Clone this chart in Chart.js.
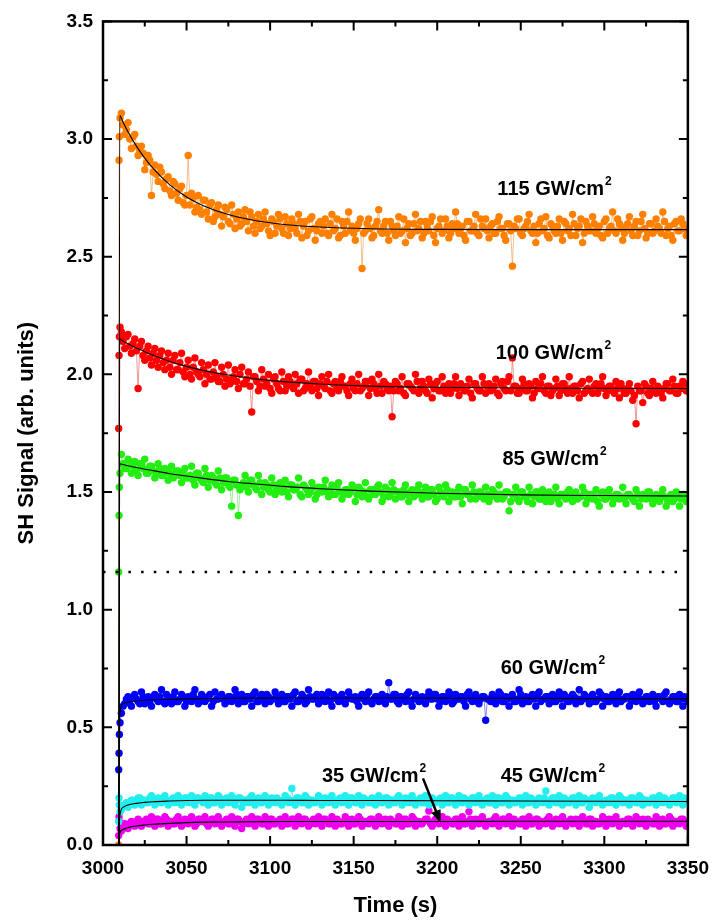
<!DOCTYPE html>
<html>
<head>
<meta charset="utf-8">
<script src="https://cdn.jsdelivr.net/npm/chart.js"></script>
<style>
  html, body { margin: 0; padding: 0; background: #fff; }
  #chart { display: block; }
</style>
</head>
<body>
<canvas id="chart" width="721" height="920"></canvas>
<script>
// --- data ---
// rising edge samples (shared by all series), then samples every second:
// "odd" arrays hold t = 3011, 3013, ..., 3349 and "even" arrays t = 3012, 3014, ..., 3350
const riseTimes = [3009.4, 3009.6, 3009.8, 3010.2];
const oddStart = 3011;
const evenStart = 3012;
const sampleStep = 2;

const orangeRise = [0.00, 2.91, 3.01, 3.09];
const orangeOdd = [
  3.11, 3.02, 3.07, 2.96, 3.02, 2.93, 2.97, 2.87, 2.93, 2.76,
  2.89, 2.82, 2.86, 2.79, 2.84, 2.76, 2.81, 2.74, 2.80, 2.72,
  2.93, 2.77, 2.69, 2.76, 2.68, 2.74, 2.66, 2.73, 2.67, 2.72,
  2.63, 2.71, 2.65, 2.72, 2.62, 2.69, 2.64, 2.70, 2.61, 2.67,
  2.60, 2.68, 2.63, 2.69, 2.61, 2.66, 2.60, 2.68, 2.62, 2.67,
  2.59, 2.66, 2.62, 2.68, 2.58, 2.65, 2.61, 2.67, 2.57, 2.64,
  2.60, 2.66, 2.59, 2.68, 2.62, 2.58, 2.65, 2.60, 2.69, 2.63,
  2.57, 2.64, 2.45, 2.61, 2.66, 2.58, 2.63, 2.70, 2.60, 2.65,
  2.57, 2.63, 2.59, 2.67, 2.61, 2.56, 2.64, 2.60, 2.68, 2.62,
  2.58, 2.65, 2.61, 2.67, 2.56, 2.63, 2.60, 2.66, 2.58, 2.64,
  2.69, 2.60, 2.63, 2.57, 2.65, 2.61, 2.68, 2.59, 2.63, 2.66,
  2.58, 2.64, 2.60, 2.67, 2.62, 2.57, 2.64, 2.46, 2.62, 2.66,
  2.59, 2.63, 2.68, 2.60, 2.56, 2.64, 2.61, 2.67, 2.58, 2.63,
  2.60, 2.66, 2.57, 2.64, 2.62, 2.68, 2.59, 2.63, 2.56, 2.65,
  2.61, 2.67, 2.60, 2.63, 2.58, 2.66, 2.62, 2.69, 2.60, 2.64,
  2.57, 2.63, 2.67, 2.59, 2.65, 2.61, 2.68, 2.58, 2.64, 2.60,
  2.66, 2.62, 2.69, 2.59, 2.63, 2.57, 2.65, 2.61, 2.64, 2.59
];
const orangeEven = [
  3.06, 3.04, 3.00, 3.01, 2.97, 2.95, 2.94, 2.90, 2.91, 2.86,
  2.85, 2.88, 2.81, 2.83, 2.78, 2.82, 2.77, 2.79, 2.73, 2.76,
  2.72, 2.75, 2.71, 2.70, 2.74, 2.69, 2.72, 2.65, 2.70, 2.68,
  2.67, 2.70, 2.64, 2.68, 2.66, 2.63, 2.67, 2.65, 2.69, 2.63,
  2.65, 2.62, 2.66, 2.64, 2.59, 2.65, 2.63, 2.66, 2.60, 2.64,
  2.62, 2.64, 2.60, 2.65, 2.63, 2.59, 2.66, 2.62, 2.61, 2.65,
  2.63, 2.60, 2.64, 2.61, 2.66, 2.59, 2.63, 2.65, 2.61, 2.60,
  2.62, 2.66, 2.60, 2.64, 2.62, 2.59, 2.65, 2.61, 2.63, 2.60,
  2.65, 2.61, 2.63, 2.60, 2.66, 2.62, 2.59, 2.64, 2.61, 2.65,
  2.60, 2.63, 2.65, 2.59, 2.62, 2.66, 2.61, 2.63, 2.60, 2.62,
  2.64, 2.62, 2.59, 2.65, 2.61, 2.63, 2.60, 2.66, 2.62, 2.61,
  2.63, 2.60, 2.65, 2.62, 2.59, 2.64, 2.61, 2.63, 2.66, 2.60,
  2.62, 2.65, 2.61, 2.63, 2.60, 2.66, 2.62, 2.59, 2.64, 2.61,
  2.63, 2.60, 2.65, 2.61, 2.59, 2.64, 2.62, 2.66, 2.60, 2.63,
  2.61, 2.64, 2.62, 2.59, 2.65, 2.60, 2.63, 2.61, 2.66, 2.62,
  2.60, 2.64, 2.61, 2.63, 2.59, 2.65, 2.62, 2.60, 2.64, 2.61,
  2.63, 2.60, 2.65, 2.62, 2.59, 2.64, 2.61, 2.66, 2.62, 2.60
];

const redRise = [1.77, 2.08, 2.16, 2.20];
const redOdd = [
  2.18, 2.11, 2.17, 2.09, 2.15, 1.94, 2.14, 2.06, 2.12, 2.04,
  2.11, 2.03, 2.10, 2.02, 2.09, 2.00, 2.08, 2.02, 2.09, 1.99,
  2.06, 1.98, 2.07, 2.00, 2.05, 1.96, 2.04, 1.98, 2.05, 1.97,
  2.03, 1.95, 2.04, 1.97, 2.02, 1.94, 2.03, 1.96, 2.01, 1.84,
  1.99, 1.93, 2.02, 1.95, 2.00, 1.92, 1.99, 1.94, 2.01, 1.93,
  1.99, 1.95, 2.00, 1.92, 1.98, 1.94, 2.01, 1.93, 1.97, 1.91,
  1.99, 1.94, 2.00, 1.92, 1.97, 1.93, 1.99, 1.95, 1.91, 1.98,
  1.93, 2.00, 1.94, 1.97, 1.91, 1.98, 1.94, 2.00, 1.92, 1.96,
  1.93, 1.82, 1.97, 1.93, 1.99, 1.91, 1.96, 1.94, 2.00, 1.92,
  1.97, 1.93, 1.98, 1.90, 1.96, 1.93, 1.99, 1.92, 1.96, 1.94,
  1.99, 1.91, 1.95, 1.93, 1.98, 1.90, 1.96, 1.93, 1.99, 1.92,
  1.96, 1.94, 1.98, 1.91, 1.97, 1.93, 1.99, 2.07, 1.95, 1.92,
  1.98, 1.93, 1.96, 1.90, 1.97, 1.94, 1.99, 1.92, 1.95, 1.93,
  1.98, 1.91, 1.96, 1.94, 1.99, 1.92, 1.95, 1.90, 1.97, 1.93,
  1.98, 1.92, 1.96, 1.94, 1.99, 1.91, 1.95, 1.93, 1.97, 1.90,
  1.94, 1.92, 1.96, 1.89, 1.79, 1.93, 1.88, 1.95, 1.91, 1.97,
  1.92, 1.94, 1.90, 1.96, 1.93, 1.98, 1.92, 1.95, 1.97, 1.93
];
const redEven = [
  2.14, 2.16, 2.12, 2.13, 2.10, 2.12, 2.08, 2.10, 2.07, 2.09,
  2.06, 2.08, 2.05, 2.06, 2.03, 2.06, 2.02, 2.05, 2.01, 2.03,
  2.00, 2.03, 2.01, 1.99, 2.02, 2.00, 1.98, 2.01, 1.99, 1.97,
  2.00, 1.98, 1.96, 1.99, 1.97, 2.00, 1.96, 1.98, 1.95, 1.99,
  1.97, 1.95, 1.98, 1.96, 1.94, 1.98, 1.96, 1.93, 1.97, 1.95,
  1.97, 1.94, 1.96, 1.98, 1.93, 1.96, 1.95, 1.97, 1.94, 1.96,
  1.95, 1.97, 1.93, 1.96, 1.94, 1.97, 1.95, 1.93, 1.96, 1.94,
  1.96, 1.93, 1.95, 1.97, 1.94, 1.96, 1.92, 1.95, 1.97, 1.94,
  1.95, 1.93, 1.96, 1.94, 1.92, 1.96, 1.95, 1.93, 1.97, 1.94,
  1.95, 1.92, 1.96, 1.94, 1.97, 1.93, 1.95, 1.94, 1.92, 1.96,
  1.94, 1.96, 1.93, 1.95, 1.92, 1.96, 1.94, 1.93, 1.96, 1.95,
  1.93, 1.95, 1.92, 1.96, 1.94, 1.97, 1.93, 1.95, 1.92, 1.94,
  1.96, 1.93, 1.95, 1.92, 1.94, 1.96, 1.93, 1.95, 1.91, 1.94,
  1.95, 1.93, 1.96, 1.92, 1.94, 1.95, 1.93, 1.96, 1.92, 1.94,
  1.93, 1.95, 1.92, 1.96, 1.94, 1.93, 1.95, 1.92, 1.94, 1.96,
  1.92, 1.94, 1.93, 1.91, 1.95, 1.93, 1.96, 1.92, 1.94, 1.93,
  1.95, 1.92, 1.94, 1.96, 1.93, 1.95, 1.92, 1.94, 1.96, 1.93
];

const greenRise = [1.16, 1.40, 1.52, 1.58];
const greenOdd = [
  1.66, 1.60, 1.64, 1.58, 1.63, 1.57, 1.62, 1.64, 1.58, 1.61,
  1.56, 1.62, 1.57, 1.60, 1.55, 1.61, 1.57, 1.59, 1.54, 1.60,
  1.56, 1.61, 1.53, 1.58, 1.55, 1.60, 1.52, 1.57, 1.54, 1.59,
  1.51, 1.56, 1.53, 1.44, 1.55, 1.40, 1.52, 1.57, 1.50, 1.55,
  1.52, 1.57, 1.49, 1.54, 1.51, 1.56, 1.49, 1.53, 1.50, 1.55,
  1.48, 1.53, 1.51, 1.56, 1.48, 1.52, 1.49, 1.54, 1.47, 1.52,
  1.50, 1.55, 1.48, 1.53, 1.49, 1.54, 1.47, 1.51, 1.49, 1.53,
  1.46, 1.52, 1.48, 1.54, 1.47, 1.51, 1.49, 1.53, 1.46, 1.52,
  1.48, 1.54, 1.47, 1.50, 1.48, 1.53, 1.46, 1.51, 1.49, 1.53,
  1.47, 1.52, 1.48, 1.51, 1.46, 1.52, 1.49, 1.53, 1.46, 1.50,
  1.48, 1.52, 1.45, 1.51, 1.49, 1.53, 1.47, 1.50, 1.48, 1.52,
  1.46, 1.51, 1.49, 1.53, 1.47, 1.50, 1.42, 1.49, 1.52, 1.46,
  1.50, 1.48, 1.52, 1.45, 1.50, 1.47, 1.51, 1.46, 1.50, 1.48,
  1.52, 1.45, 1.49, 1.47, 1.51, 1.46, 1.50, 1.48, 1.52, 1.45,
  1.49, 1.47, 1.51, 1.44, 1.50, 1.47, 1.51, 1.45, 1.49, 1.47,
  1.52, 1.45, 1.49, 1.47, 1.51, 1.44, 1.49, 1.47, 1.50, 1.45,
  1.49, 1.46, 1.51, 1.44, 1.48, 1.46, 1.50, 1.44, 1.49, 1.46
];
const greenEven = [
  1.62, 1.60, 1.63, 1.61, 1.59, 1.62, 1.60, 1.58, 1.61, 1.59,
  1.58, 1.60, 1.57, 1.59, 1.58, 1.56, 1.59, 1.57, 1.58, 1.56,
  1.57, 1.55, 1.58, 1.56, 1.54, 1.57, 1.55, 1.56, 1.53, 1.56,
  1.54, 1.56, 1.52, 1.55, 1.53, 1.51, 1.54, 1.52, 1.55, 1.53,
  1.51, 1.54, 1.52, 1.53, 1.50, 1.53, 1.51, 1.54, 1.52, 1.50,
  1.53, 1.51, 1.52, 1.49, 1.53, 1.51, 1.50, 1.52, 1.49, 1.51,
  1.52, 1.50, 1.51, 1.49, 1.52, 1.50, 1.49, 1.51, 1.50, 1.52,
  1.49, 1.51, 1.50, 1.48, 1.51, 1.49, 1.52, 1.50, 1.48, 1.51,
  1.49, 1.51, 1.50, 1.48, 1.51, 1.49, 1.50, 1.48, 1.51, 1.49,
  1.50, 1.48, 1.51, 1.49, 1.47, 1.50, 1.48, 1.51, 1.49, 1.48,
  1.50, 1.48, 1.51, 1.49, 1.47, 1.50, 1.48, 1.50, 1.47, 1.49,
  1.48, 1.50, 1.47, 1.49, 1.48, 1.50, 1.46, 1.49, 1.47, 1.50,
  1.48, 1.46, 1.49, 1.48, 1.50, 1.47, 1.49, 1.48, 1.46, 1.49,
  1.47, 1.49, 1.48, 1.50, 1.47, 1.49, 1.47, 1.48, 1.50, 1.47,
  1.49, 1.48, 1.46, 1.49, 1.47, 1.50, 1.48, 1.47, 1.49, 1.48,
  1.47, 1.49, 1.48, 1.46, 1.49, 1.47, 1.48, 1.50, 1.47, 1.48,
  1.47, 1.49, 1.48, 1.46, 1.49, 1.47, 1.48, 1.47, 1.49, 1.47
];

const blueRise = [0.32, 0.39, 0.47, 0.52];
const blueOdd = [
  0.56, 0.60, 0.63, 0.59, 0.64, 0.61, 0.65, 0.60, 0.63, 0.59,
  0.64, 0.61, 0.66, 0.60, 0.63, 0.60, 0.65, 0.61, 0.64, 0.59,
  0.63, 0.61, 0.66, 0.60, 0.64, 0.61, 0.63, 0.59, 0.65, 0.62,
  0.64, 0.60, 0.63, 0.61, 0.66, 0.60, 0.64, 0.61, 0.63, 0.59,
  0.65, 0.61, 0.64, 0.60, 0.63, 0.62, 0.65, 0.60, 0.64, 0.61,
  0.63, 0.59, 0.65, 0.61, 0.64, 0.60, 0.66, 0.62, 0.63, 0.60,
  0.64, 0.61, 0.65, 0.59, 0.63, 0.61, 0.64, 0.60, 0.65, 0.62,
  0.63, 0.59, 0.64, 0.61, 0.65, 0.60, 0.63, 0.61, 0.64, 0.60,
  0.69, 0.62, 0.64, 0.60, 0.63, 0.61, 0.65, 0.59, 0.64, 0.61,
  0.63, 0.60, 0.65, 0.62, 0.64, 0.59, 0.63, 0.61, 0.65, 0.60,
  0.64, 0.62, 0.63, 0.59, 0.65, 0.61, 0.64, 0.60, 0.63, 0.53,
  0.62, 0.64, 0.60, 0.65, 0.61, 0.63, 0.59, 0.64, 0.61, 0.66,
  0.60, 0.63, 0.61, 0.64, 0.59, 0.65, 0.62, 0.63, 0.60, 0.64,
  0.61, 0.65, 0.59, 0.63, 0.61, 0.64, 0.60, 0.66, 0.62, 0.63,
  0.60, 0.64, 0.61, 0.65, 0.59, 0.63, 0.61, 0.64, 0.60, 0.65,
  0.62, 0.63, 0.59, 0.64, 0.61, 0.65, 0.60, 0.63, 0.61, 0.64,
  0.59, 0.63, 0.61, 0.65, 0.60, 0.63, 0.61, 0.64, 0.59, 0.62
];
const blueEven = [
  0.59, 0.62, 0.61, 0.63, 0.62, 0.60, 0.63, 0.62, 0.61, 0.63,
  0.62, 0.63, 0.61, 0.64, 0.62, 0.63, 0.61, 0.62, 0.63, 0.61,
  0.62, 0.64, 0.62, 0.61, 0.63, 0.62, 0.64, 0.61, 0.62, 0.63,
  0.62, 0.61, 0.63, 0.62, 0.64, 0.62, 0.61, 0.63, 0.62, 0.64,
  0.61, 0.63, 0.62, 0.64, 0.61, 0.62, 0.63, 0.62, 0.61, 0.63,
  0.62, 0.64, 0.61, 0.62, 0.63, 0.61, 0.63, 0.62, 0.64, 0.61,
  0.62, 0.63, 0.61, 0.64, 0.62, 0.63, 0.61, 0.62, 0.63, 0.62,
  0.61, 0.63, 0.62, 0.64, 0.61, 0.62, 0.63, 0.62, 0.61, 0.63,
  0.62, 0.64, 0.61, 0.63, 0.62, 0.64, 0.61, 0.62, 0.63, 0.62,
  0.61, 0.63, 0.62, 0.64, 0.62, 0.61, 0.63, 0.62, 0.64, 0.61,
  0.62, 0.63, 0.61, 0.64, 0.62, 0.63, 0.61, 0.62, 0.63, 0.62,
  0.61, 0.63, 0.62, 0.64, 0.61, 0.62, 0.63, 0.61, 0.62, 0.64,
  0.62, 0.61, 0.63, 0.62, 0.64, 0.61, 0.62, 0.63, 0.62, 0.61,
  0.63, 0.62, 0.64, 0.61, 0.62, 0.63, 0.62, 0.61, 0.64, 0.62,
  0.63, 0.61, 0.62, 0.64, 0.62, 0.61, 0.63, 0.62, 0.64, 0.61,
  0.62, 0.63, 0.61, 0.62, 0.64, 0.62, 0.61, 0.63, 0.62, 0.61,
  0.63, 0.62, 0.64, 0.61, 0.62, 0.63, 0.61, 0.62, 0.63, 0.61
];

const cyanRise = [0.10, 0.20, 0.17, 0.14];
const cyanOdd = [
  0.15, 0.17, 0.16, 0.19, 0.17, 0.20, 0.17, 0.19, 0.18, 0.21,
  0.17, 0.20, 0.18, 0.21, 0.17, 0.19, 0.18, 0.21, 0.17, 0.20,
  0.18, 0.21, 0.17, 0.20, 0.19, 0.21, 0.17, 0.20, 0.18, 0.21,
  0.17, 0.19, 0.18, 0.21, 0.17, 0.20, 0.16, 0.19, 0.18, 0.21,
  0.17, 0.20, 0.18, 0.21, 0.17, 0.20, 0.18, 0.19, 0.17, 0.21,
  0.18, 0.24, 0.17, 0.20, 0.18, 0.21, 0.17, 0.19, 0.18, 0.21,
  0.17, 0.20, 0.18, 0.21, 0.17, 0.19, 0.18, 0.21, 0.17, 0.20,
  0.18, 0.21, 0.17, 0.19, 0.18, 0.20, 0.17, 0.21, 0.18, 0.20,
  0.17, 0.19, 0.18, 0.21, 0.17, 0.20, 0.18, 0.21, 0.17, 0.19,
  0.18, 0.21, 0.17, 0.20, 0.18, 0.19, 0.17, 0.21, 0.18, 0.20,
  0.17, 0.21, 0.18, 0.19, 0.17, 0.20, 0.18, 0.21, 0.17, 0.19,
  0.18, 0.21, 0.17, 0.20, 0.18, 0.21, 0.17, 0.19, 0.18, 0.20,
  0.17, 0.21, 0.18, 0.19, 0.17, 0.20, 0.18, 0.23, 0.17, 0.20,
  0.18, 0.21, 0.17, 0.19, 0.18, 0.20, 0.17, 0.21, 0.18, 0.19,
  0.16, 0.20, 0.18, 0.21, 0.17, 0.19, 0.18, 0.20, 0.17, 0.21,
  0.18, 0.19, 0.17, 0.20, 0.18, 0.21, 0.17, 0.19, 0.18, 0.20,
  0.17, 0.21, 0.18, 0.19, 0.17, 0.20, 0.18, 0.21, 0.17, 0.19
];
const cyanEven = [
  0.16, 0.18, 0.18, 0.19, 0.18, 0.20, 0.19, 0.18, 0.20, 0.19,
  0.18, 0.19, 0.20, 0.19, 0.18, 0.20, 0.19, 0.18, 0.19, 0.20,
  0.19, 0.18, 0.20, 0.19, 0.18, 0.19, 0.20, 0.18, 0.19, 0.20,
  0.18, 0.20, 0.19, 0.18, 0.19, 0.20, 0.18, 0.19, 0.20, 0.18,
  0.19, 0.18, 0.20, 0.19, 0.18, 0.19, 0.20, 0.18, 0.19, 0.20,
  0.19, 0.18, 0.20, 0.19, 0.18, 0.20, 0.19, 0.18, 0.19, 0.20,
  0.18, 0.19, 0.20, 0.18, 0.19, 0.20, 0.19, 0.18, 0.20, 0.19,
  0.18, 0.19, 0.20, 0.19, 0.18, 0.19, 0.20, 0.18, 0.19, 0.20,
  0.19, 0.18, 0.20, 0.19, 0.18, 0.19, 0.20, 0.18, 0.19, 0.20,
  0.18, 0.19, 0.20, 0.18, 0.19, 0.20, 0.19, 0.18, 0.20, 0.19,
  0.18, 0.19, 0.20, 0.19, 0.18, 0.20, 0.19, 0.18, 0.19, 0.20,
  0.18, 0.19, 0.20, 0.18, 0.19, 0.20, 0.19, 0.18, 0.19, 0.20,
  0.19, 0.18, 0.20, 0.19, 0.18, 0.19, 0.20, 0.18, 0.19, 0.20,
  0.18, 0.19, 0.20, 0.18, 0.19, 0.20, 0.19, 0.18, 0.20, 0.19,
  0.18, 0.19, 0.20, 0.19, 0.18, 0.19, 0.20, 0.18, 0.19, 0.20,
  0.19, 0.18, 0.20, 0.19, 0.18, 0.20, 0.19, 0.18, 0.19, 0.20,
  0.18, 0.19, 0.20, 0.18, 0.19, 0.20, 0.19, 0.18, 0.20, 0.19
];

const magentaRise = [0.04, 0.12, 0.10, 0.07];
const magentaOdd = [
  0.06, 0.09, 0.07, 0.10, 0.08, 0.11, 0.08, 0.10, 0.09, 0.12,
  0.08, 0.11, 0.09, 0.12, 0.08, 0.10, 0.09, 0.12, 0.08, 0.11,
  0.09, 0.12, 0.08, 0.11, 0.10, 0.12, 0.08, 0.11, 0.09, 0.12,
  0.08, 0.10, 0.09, 0.12, 0.08, 0.11, 0.07, 0.10, 0.09, 0.12,
  0.08, 0.11, 0.09, 0.12, 0.08, 0.11, 0.09, 0.10, 0.08, 0.12,
  0.09, 0.11, 0.08, 0.12, 0.09, 0.11, 0.08, 0.10, 0.09, 0.12,
  0.08, 0.11, 0.09, 0.12, 0.08, 0.10, 0.09, 0.12, 0.08, 0.11,
  0.09, 0.12, 0.08, 0.10, 0.09, 0.11, 0.08, 0.12, 0.09, 0.11,
  0.08, 0.10, 0.09, 0.12, 0.08, 0.11, 0.09, 0.12, 0.08, 0.10,
  0.09, 0.11, 0.145, 0.08, 0.11, 0.09, 0.12, 0.08, 0.10, 0.09,
  0.11, 0.08, 0.12, 0.09, 0.142, 0.08, 0.11, 0.09, 0.12, 0.08,
  0.10, 0.09, 0.12, 0.08, 0.11, 0.09, 0.12, 0.08, 0.10, 0.09,
  0.11, 0.08, 0.12, 0.09, 0.11, 0.08, 0.10, 0.09, 0.12, 0.08,
  0.11, 0.09, 0.12, 0.08, 0.10, 0.09, 0.11, 0.08, 0.12, 0.09,
  0.11, 0.08, 0.10, 0.09, 0.12, 0.08, 0.11, 0.09, 0.12, 0.08,
  0.10, 0.09, 0.11, 0.08, 0.12, 0.09, 0.11, 0.08, 0.10, 0.09,
  0.12, 0.08, 0.11, 0.09, 0.12, 0.08, 0.10, 0.09, 0.11, 0.08
];
const magentaEven = [
  0.07, 0.08, 0.09, 0.09, 0.10, 0.09, 0.10, 0.11, 0.09, 0.10,
  0.11, 0.09, 0.10, 0.11, 0.10, 0.09, 0.11, 0.10, 0.09, 0.10,
  0.11, 0.10, 0.09, 0.11, 0.10, 0.09, 0.10, 0.11, 0.10, 0.09,
  0.10, 0.11, 0.09, 0.10, 0.11, 0.10, 0.09, 0.11, 0.10, 0.09,
  0.11, 0.10, 0.09, 0.10, 0.11, 0.09, 0.10, 0.11, 0.10, 0.09,
  0.10, 0.11, 0.09, 0.10, 0.11, 0.10, 0.09, 0.11, 0.10, 0.09,
  0.11, 0.10, 0.09, 0.10, 0.11, 0.09, 0.10, 0.11, 0.10, 0.09,
  0.10, 0.11, 0.09, 0.10, 0.11, 0.10, 0.09, 0.11, 0.10, 0.09,
  0.11, 0.10, 0.09, 0.10, 0.11, 0.09, 0.10, 0.11, 0.10, 0.09,
  0.10, 0.11, 0.09, 0.10, 0.11, 0.10, 0.09, 0.11, 0.10, 0.09,
  0.11, 0.10, 0.09, 0.10, 0.11, 0.09, 0.10, 0.11, 0.10, 0.09,
  0.10, 0.11, 0.09, 0.10, 0.11, 0.10, 0.09, 0.11, 0.10, 0.09,
  0.11, 0.10, 0.09, 0.10, 0.11, 0.09, 0.10, 0.11, 0.10, 0.09,
  0.10, 0.11, 0.09, 0.10, 0.11, 0.10, 0.09, 0.11, 0.10, 0.09,
  0.11, 0.10, 0.09, 0.10, 0.11, 0.09, 0.10, 0.11, 0.10, 0.09,
  0.10, 0.11, 0.09, 0.10, 0.11, 0.10, 0.09, 0.11, 0.10, 0.09,
  0.11, 0.10, 0.09, 0.10, 0.11, 0.09, 0.10, 0.11, 0.10, 0.09
];

// fitted curves (black)
const fitTimes = [3009.5, 3010, 3012, 3015, 3020, 3025, 3030, 3040, 3050, 3060,
                  3075, 3090, 3110, 3130, 3160, 3200, 3250, 3300, 3350];
const orangeFit  = [0, 3.100, 3.071, 3.030, 2.970, 2.919, 2.875, 2.805, 2.754, 2.717,
                    2.679, 2.655, 2.636, 2.626, 2.619, 2.616, 2.615, 2.615, 2.615];
const redFit     = [0, 2.150, 2.142, 2.130, 2.112, 2.096, 2.081, 2.055, 2.034, 2.017,
                    1.997, 1.982, 1.968, 1.959, 1.950, 1.945, 1.942, 1.941, 1.940];
const greenFit   = [0, 1.620, 1.617, 1.612, 1.604, 1.597, 1.591, 1.578, 1.568, 1.558,
                    1.545, 1.535, 1.523, 1.514, 1.504, 1.495, 1.488, 1.485, 1.483];
const blueFit    = [0, 0.550, 0.600, 0.607, 0.612, 0.615, 0.617, 0.619, 0.621, 0.622,
                    0.623, 0.624, 0.625, 0.625, 0.625, 0.624, 0.623, 0.622, 0.621];
const cyanFit    = [0, 0.120, 0.160, 0.170, 0.177, 0.181, 0.184, 0.187, 0.189, 0.190,
                    0.190, 0.190, 0.190, 0.189, 0.189, 0.188, 0.187, 0.186, 0.185];
const magentaFit = [0, 0.050, 0.066, 0.074, 0.081, 0.085, 0.088, 0.092, 0.095, 0.097,
                    0.098, 0.099, 0.100, 0.100, 0.100, 0.100, 0.101, 0.101, 0.101];

const thresholdLevel = 1.16;

const seriesNames = ['115 GW/cm', '100 GW/cm', '85 GW/cm', '60 GW/cm', '45 GW/cm', '35 GW/cm'];

// --- helpers ---
function toPoints(rise, odd, even) {
  const pts = rise.map((v, i) => ({ x: riseTimes[i], y: v }));
  odd.forEach((v, i) => {
    pts.push({ x: oddStart + sampleStep * i, y: v });
    if (i < even.length) pts.push({ x: evenStart + sampleStep * i, y: even[i] });
  });
  return pts;
}
function fitPoints(vals) {
  return vals.map((v, i) => ({ x: fitTimes[i], y: v }));
}

const FONT = '"Liberation Sans", Arial, Helvetica, sans-serif';

function dataSet(rise, odd, even, color, lineColor) {
  return {
    data: toPoints(rise, odd, even),
    showLine: true,
    borderColor: lineColor,
    borderWidth: 1,
    pointRadius: 3.7,
    pointBorderWidth: 0,
    pointBackgroundColor: color,
    order: 2
  };
}
function fitSet(vals) {
  return {
    data: fitPoints(vals),
    showLine: true,
    borderColor: '#000',
    borderWidth: 1.1,
    pointRadius: 0,
    cubicInterpolationMode: 'monotone',
    order: 1
  };
}

// label positions in data units (left edge, baseline)
const labelSpots = [
  { x: 3236, y: 2.762 },
  { x: 3235, y: 2.064 },
  { x: 3239, y: 1.616 },
  { x: 3238, y: 0.728 },
  { x: 3238, y: 0.267 },
  { x: 3131, y: 0.267 }
];

const decor = {
  id: 'decor',
  afterDraw(chart) {
    const { ctx, chartArea: a, scales: { x, y } } = chart;
    ctx.save();

    // frame
    ctx.strokeStyle = '#000';
    ctx.lineWidth = 2.5;
    ctx.strokeRect(a.left, a.top, a.right - a.left, a.bottom - a.top);

    // inward ticks on all four sides
    ctx.lineWidth = 2;
    ctx.beginPath();
    x.ticks.forEach(t => {
      const px = x.getPixelForValue(t.value);
      const len = Math.round(t.value) % 50 === 0 ? 9 : 5;
      ctx.moveTo(px, a.bottom); ctx.lineTo(px, a.bottom - len);
      ctx.moveTo(px, a.top); ctx.lineTo(px, a.top + len);
    });
    y.ticks.forEach(t => {
      const py = y.getPixelForValue(t.value);
      const major = Math.abs(t.value * 2 - Math.round(t.value * 2)) < 1e-6;
      const len = major ? 9 : 5;
      ctx.moveTo(a.left, py); ctx.lineTo(a.left + len, py);
      ctx.moveTo(a.right, py); ctx.lineTo(a.right - len, py);
    });
    ctx.stroke();

    // series labels with superscript 2
    ctx.fillStyle = '#000';
    ctx.textAlign = 'left';
    ctx.textBaseline = 'alphabetic';
    seriesNames.forEach((name, i) => {
      const px = x.getPixelForValue(labelSpots[i].x);
      const py = y.getPixelForValue(labelSpots[i].y);
      ctx.font = 'bold 20px ' + FONT;
      ctx.fillText(name, px, py);
      const w = ctx.measureText(name).width;
      ctx.font = 'bold 12px ' + FONT;
      ctx.fillText('2', px + w + 1, py - 10);
    });

    // arrow to the 35 GW/cm2 trace
    const x0 = x.getPixelForValue(3191.5), y0 = y.getPixelForValue(0.283);
    const x1 = x.getPixelForValue(3202.1), y1 = y.getPixelForValue(0.093);
    const ang = Math.atan2(y1 - y0, x1 - x0);
    ctx.lineWidth = 2.5;
    ctx.beginPath();
    ctx.moveTo(x0, y0);
    ctx.lineTo(x1 - 10 * Math.cos(ang), y1 - 10 * Math.sin(ang));
    ctx.stroke();
    ctx.beginPath();
    ctx.moveTo(x1, y1);
    ctx.lineTo(x1 - 13 * Math.cos(ang) + 5 * Math.sin(ang), y1 - 13 * Math.sin(ang) - 5 * Math.cos(ang));
    ctx.lineTo(x1 - 13 * Math.cos(ang) - 5 * Math.sin(ang), y1 - 13 * Math.sin(ang) + 5 * Math.cos(ang));
    ctx.closePath();
    ctx.fill();

    // axis titles
    ctx.font = 'bold 22px ' + FONT;
    ctx.textAlign = 'center';
    ctx.fillText('Time (s)', (a.left + a.right) / 2, 912);
    ctx.translate(33, (a.top + a.bottom) / 2);
    ctx.rotate(-Math.PI / 2);
    ctx.fillText('SH Signal (arb. units)', 0, 0);

    ctx.restore();
  }
};

new Chart(document.getElementById('chart'), {
  type: 'scatter',
  data: {
    datasets: [
      dataSet(orangeRise, orangeOdd, orangeEven, '#ff8000', 'rgba(235,165,95,0.7)'),
      dataSet(redRise, redOdd, redEven, '#ff0000', 'rgba(235,110,110,0.7)'),
      dataSet(greenRise, greenOdd, greenEven, '#22ee11', 'rgba(120,230,110,0.7)'),
      dataSet(blueRise, blueOdd, blueEven, '#0000ff', 'rgba(90,90,230,0.7)'),
      dataSet(cyanRise, cyanOdd, cyanEven, '#22eeee', 'rgba(110,220,220,0.7)'),
      dataSet(magentaRise, magentaOdd, magentaEven, '#ee00ee', 'rgba(220,110,220,0.7)'),
      fitSet(orangeFit),
      fitSet(redFit),
      fitSet(greenFit),
      fitSet(blueFit),
      fitSet(cyanFit),
      fitSet(magentaFit),
      {
        data: [{ x: 3000, y: thresholdLevel }, { x: 3350, y: thresholdLevel }],
        showLine: true,
        borderColor: '#000',
        borderWidth: 2.5,
        borderDash: [2.5, 10.2],
        pointRadius: 0,
        order: 0
      }
    ]
  },
  options: {
    responsive: false,
    animation: false,
    devicePixelRatio: 1,
    layout: { padding: { top: 18, right: 24, left: 0, bottom: 0 } },
    plugins: { legend: { display: false }, tooltip: { enabled: false } },
    scales: {
      x: {
        type: 'linear',
        min: 3000,
        max: 3350,
        grid: { display: false, drawTicks: false },
        border: { display: false },
        afterFit: s => { s.height = 75; },
        ticks: {
          stepSize: 25,
          autoSkip: false,
          maxRotation: 0,
          padding: 12,
          color: '#000',
          font: { family: FONT, size: 19, weight: 'bold' },
          callback: v => (Math.round(v) % 50 === 0 ? String(v) : '')
        }
      },
      y: {
        min: 0,
        max: 3.5,
        grid: { display: false, drawTicks: false },
        border: { display: false },
        afterFit: s => { s.width = 103; },
        ticks: {
          stepSize: 0.25,
          autoSkip: false,
          padding: 10,
          color: '#000',
          font: { family: FONT, size: 19, weight: 'bold' },
          callback: v => (Math.abs(v * 2 - Math.round(v * 2)) < 1e-6 ? v.toFixed(1) : '')
        }
      }
    }
  },
  plugins: [decor]
});
</script>
</body>
</html>
